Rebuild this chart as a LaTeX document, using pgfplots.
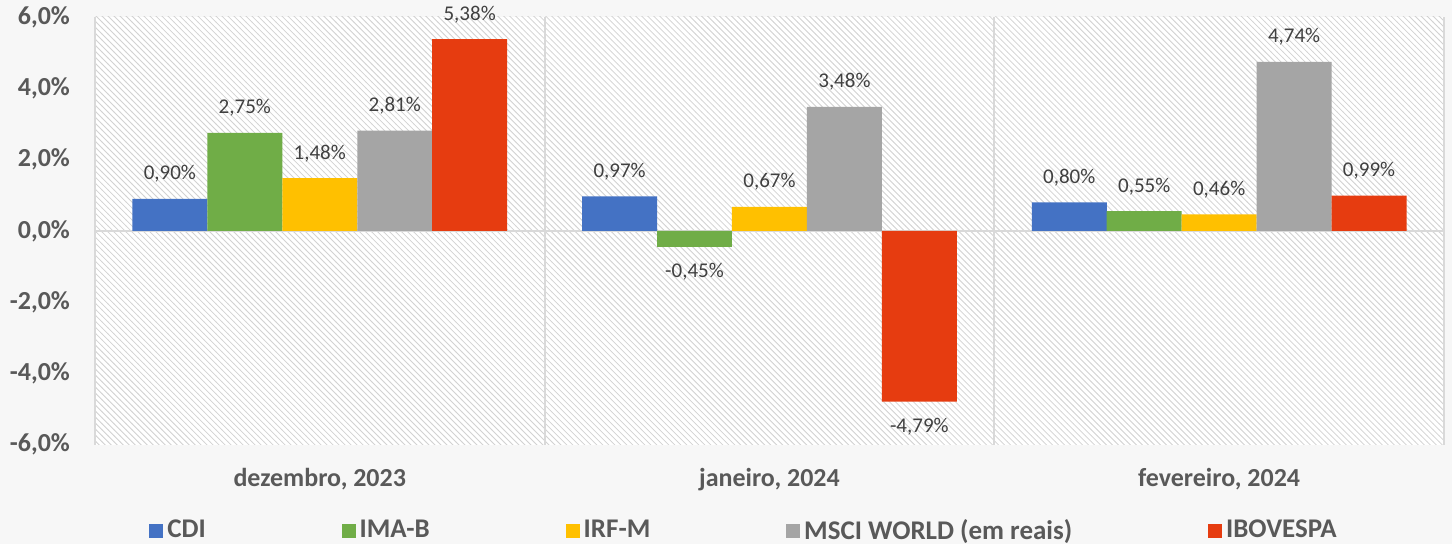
\documentclass[border=0pt]{standalone}
\usepackage{fontspec}
\setmainfont{Carlito}
\usepackage{pgfplots}
\pgfplotsset{compat=1.18}
\usetikzlibrary{patterns,backgrounds}
\definecolor{cdi}{HTML}{4472C4}
\definecolor{imab}{HTML}{70AD47}
\definecolor{irfm}{HTML}{FFC000}
\definecolor{msci}{HTML}{A5A5A5}
\definecolor{ibov}{HTML}{E63C10}
\definecolor{txt}{HTML}{595959}
\definecolor{lbl}{HTML}{404040}
\definecolor{gridc}{HTML}{D9D9D9}
\definecolor{bgc}{HTML}{F7F7F7}
\begin{document}
\begin{tikzpicture}
\begin{axis}[
  name=ax,
  scale only axis, width=675pt, height=214pt,
  xmin=-0.5, xmax=2.5, ymin=-6, ymax=6,
  axis line style={draw=none},
  major tick length=0pt,
  ybar, bar width=0.1667,
  ytick={-6,-4,-2,0,2,4,6},
  yticklabel={\pgfmathprintnumber[fixed,fixed zerofill,precision=1,use comma]{\tick}\%},
  xtick={0,1,2},
  xticklabels={{dezembro, 2023},{janeiro, 2024},{fevereiro, 2024}},
  minor xtick={-0.5,0.5,1.5,2.5},
  xminorgrids,
  minor tick length=0pt,
  minor grid style={gridc, line width=1pt},
  ticklabel style={font=\fontsize{13}{15}\selectfont\bfseries, text=txt},
  xticklabel style={yshift=-8.5pt},
  yticklabel style={xshift=-9pt},
  /pgf/number format/assume math mode=true,
  nodes near coords={\pgfmathprintnumber[fixed,fixed zerofill,precision=2,use comma]{\pgfplotspointmeta}\%},
  nodes near coords style={font=\fontsize{10.5}{12}\selectfont, text=lbl, inner sep=8pt},
  axis background/.style={fill=white, postaction={pattern=north west lines, pattern color=gray!35}},
  legend columns=5,
  legend style={at={(0,0)}, anchor=west, xshift=27pt, yshift=-43pt, draw=none, fill=none,
    font=\fontsize{13.5}{15}\selectfont\bfseries, text=txt, inner sep=0pt,
    /tikz/every even column/.append style={column sep=66pt}},
  legend image code/.code={\fill[#1] (0pt,-3.5pt) rectangle (7pt,3.5pt);},
]
\draw[gridc, line width=1pt] (axis cs:-0.5,0) -- (axis cs:2.5,0);
\addplot[fill=cdi, draw=none, bar shift=-0.3333] coordinates {(0,0.90) (1,0.97) (2,0.80)};
\addplot[fill=imab, draw=none, bar shift=-0.1667] coordinates {(0,2.75) (1,-0.45) (2,0.55)};
\addplot[fill=irfm, draw=none, bar shift=0] coordinates {(0,1.48) (1,0.67) (2,0.46)};
\addplot[fill=msci, draw=none, bar shift=0.1667] coordinates {(0,2.81) (1,3.48) (2,4.74)};
\addplot[fill=ibov, draw=none, bar shift=0.3333] coordinates {(0,5.38) (1,-4.79) (2,0.99)};
\legend{CDI, IMA-B, IRF-M, MSCI WORLD (em reais), IBOVESPA}
\end{axis}
\begin{scope}[on background layer]
\fill[bgc] ([xshift=-47.5pt,yshift=-49.5pt]ax.south west) rectangle ([xshift=4pt,yshift=8.5pt]ax.north east);
\end{scope}
\pgfresetboundingbox
\path[use as bounding box] ([xshift=-47.5pt,yshift=-49.5pt]ax.south west) rectangle ([xshift=4pt,yshift=8.5pt]ax.north east);
\end{tikzpicture}
\end{document}
